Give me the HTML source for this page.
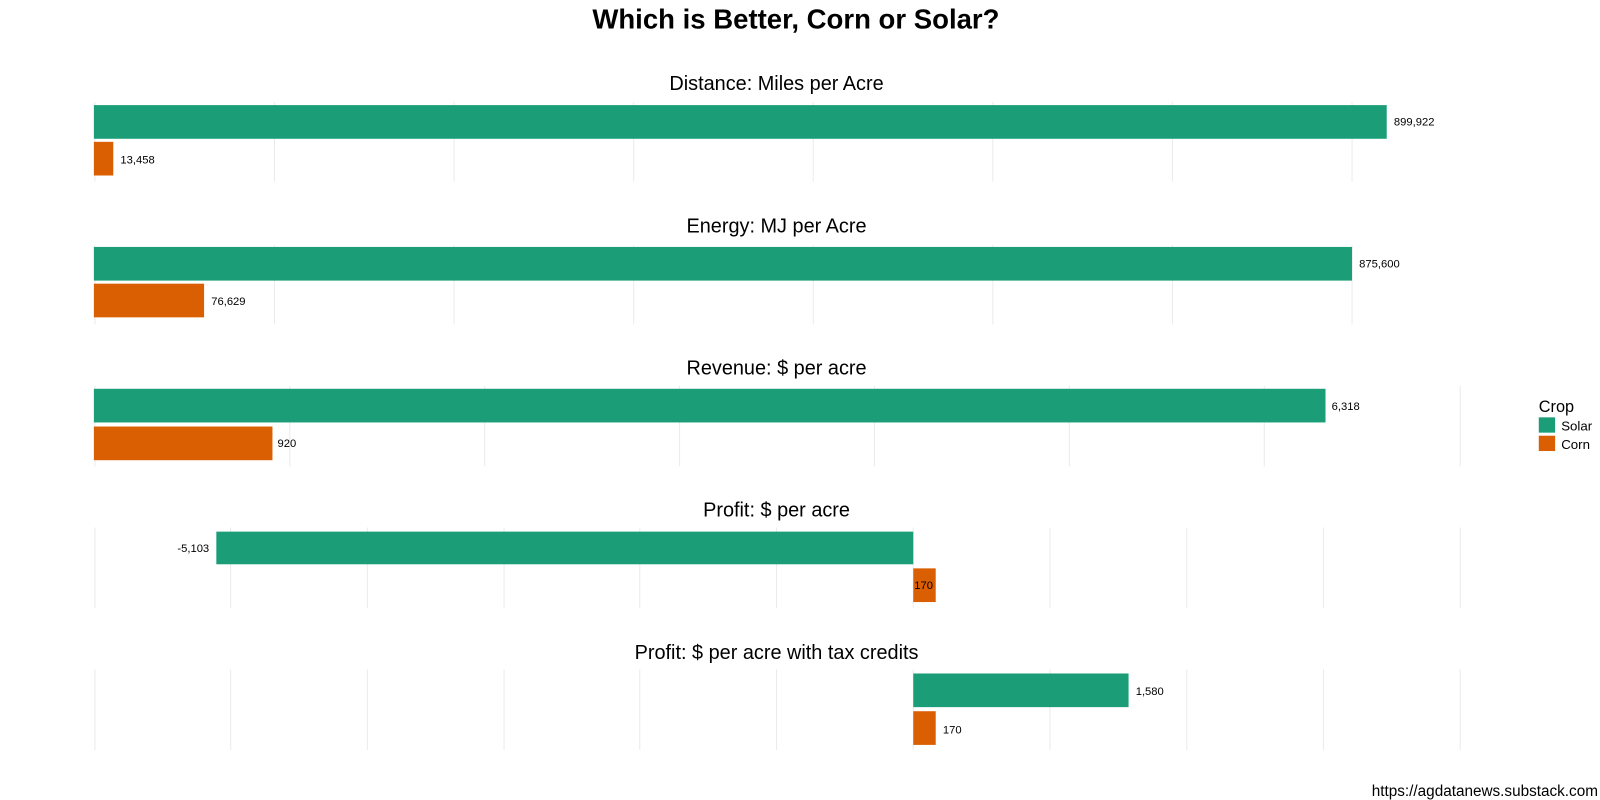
<!DOCTYPE html>
<html><head><style>
body{margin:0;background:#fff;font-family:"Liberation Sans",Arial,sans-serif}
svg{display:block}
</style></head><body>
<svg width="1600" height="800" viewBox="0 0 1568 784" xmlns="http://www.w3.org/2000/svg" font-family="Liberation Sans, Arial, sans-serif">
<rect width="1568" height="784" fill="#fff"/>
<text x="780" y="28" font-size="27" font-weight="bold" text-anchor="middle">Which is Better, Corn or Solar?</text>
<g stroke="#ebebeb" stroke-width="1">
<path d="M93 100V178M269 100V178M445 100V178M621 100V178M797 100V178M973 100V178M1149 100V178M1325 100V178"/>
<path d="M93 240V318M269 240V318M445 240V318M621 240V318M797 240V318M973 240V318M1149 240V318M1325 240V318"/>
<path d="M93 378V457M284 378V457M475 378V457M666 378V457M857 378V457M1048 378V457M1239 378V457M1431 378V457"/>
<path d="M93 517V596M226 517V596M360 517V596M494 517V596M627 517V596M761 517V596M895 517V596M1029 517V596M1163 517V596M1297 517V596M1431 517V596"/>
<path d="M93 656V735M226 656V735M360 656V735M494 656V735M627 656V735M761 656V735M895 656V735M1029 656V735M1163 656V735M1297 656V735M1431 656V735"/>
</g>
<g font-size="19.5" text-anchor="middle">
<text x="761" y="88">Distance: Miles per Acre</text>
<text x="761" y="228">Energy: MJ per Acre</text>
<text x="761" y="367">Revenue: $ per acre</text>
<text x="761" y="506">Profit: $ per acre</text>
<text x="761" y="646">Profit: $ per acre with tax credits</text>
</g>
<g fill="#1b9e77">
<rect x="92" y="103" width="1267" height="33"/>
<rect x="92" y="242" width="1233" height="33"/>
<rect x="92" y="381" width="1207" height="33"/>
<rect x="212" y="521" width="683" height="32"/>
<rect x="895" y="660" width="211" height="33"/>
</g>
<g fill="#d95f02">
<rect x="92" y="139" width="19" height="33"/>
<rect x="92" y="278" width="108" height="33"/>
<rect x="92" y="418" width="175" height="33"/>
<rect x="895" y="557" width="22" height="33"/>
<rect x="895" y="697" width="22" height="33"/>
</g>
<g font-size="11" fill="#000">
<text x="1366" y="123">899,922</text>
<text x="118" y="160">13,458</text>
<text x="1332" y="262">875,600</text>
<text x="207" y="299">76,629</text>
<text x="1305" y="402">6,318</text>
<text x="272" y="438">920</text>
<text x="205" y="541" text-anchor="end">-5,103</text>
<text x="896" y="577">170</text>
<text x="1113" y="681">1,580</text>
<text x="924" y="719">170</text>
</g>
<text x="1508" y="404" font-size="16">Crop</text>
<rect x="1508" y="409" width="16" height="15" fill="#1b9e77"/>
<rect x="1508" y="427" width="16" height="15" fill="#d95f02"/>
<text x="1530" y="422" font-size="13">Solar</text>
<text x="1530" y="440" font-size="13">Corn</text>
<text x="1566" y="780" font-size="15" text-anchor="end">https://agdatanews.substack.com</text>
</svg>
</body></html>
